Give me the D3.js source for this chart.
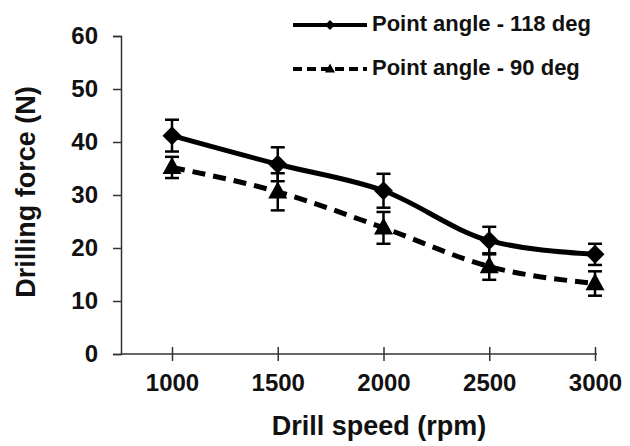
<!DOCTYPE html>
<html><head><meta charset="utf-8">
<script src="https://cdn.jsdelivr.net/npm/d3@7"></script>
<style>body{margin:0;background:#fff}svg{display:block}</style>
</head><body>
<svg id="c" width="630" height="446"></svg>
<script>
const speeds = [1000, 1500, 2000, 2500, 3000];
const force118 = [41.2, 35.8, 30.8, 21.4, 18.8];
const err118 = [3.0, 3.2, 3.2, 2.6, 2.0];
const force90 = [35.2, 30.6, 23.8, 16.5, 13.3];
const err90 = [2.0, 3.5, 3.0, 2.5, 2.3];
const yTicks = [0, 10, 20, 30, 40, 50, 60];
const seriesNames = ["Point angle - 118 deg", "Point angle - 90 deg"];

const svg = d3.select("#c");
const font = "'Liberation Sans', Arial, sans-serif";
const ink = "#111";
const x = d3.scaleLinear().domain([1000, 3000]).range([172, 595]);
const y = d3.scaleLinear().domain([0, 60]).range([354, 36]);
const axisLeft = 121, axisRight = 597;

// y axis
const ya = svg.append("g").attr("transform", `translate(${axisLeft},0)`)
  .call(d3.axisLeft(y).tickValues(yTicks).tickSize(8).tickPadding(15));
ya.select(".domain").attr("stroke", "#333").attr("stroke-width", 1.5);
ya.selectAll(".tick line").attr("stroke", "#333").attr("stroke-width", 1.5);
ya.selectAll("text").attr("font-family", font).attr("font-weight", "bold")
  .attr("font-size", 24).attr("fill", ink);

// x axis
const xa = svg.append("g").attr("transform", `translate(0,${y(0)})`)
  .call(d3.axisBottom(x).tickValues(speeds).tickFormat(d3.format("d")).tickSizeInner(7).tickSizeOuter(0).tickPadding(13));
xa.select(".domain").attr("d", `M${axisLeft},0H${axisRight}`).attr("stroke", "#333").attr("stroke-width", 1.5);
xa.selectAll(".tick line").attr("y1", -7).attr("y2", 7).attr("stroke", "#333").attr("stroke-width", 1.5);
xa.selectAll("text").attr("font-family", font).attr("font-weight", "bold")
  .attr("font-size", 24).attr("fill", ink);

// axis titles
svg.append("text").attr("x", 379).attr("y", 435).attr("text-anchor", "middle")
  .attr("font-family", font).attr("font-weight", "bold").attr("font-size", 27).attr("fill", ink)
  .text("Drill speed (rpm)");
svg.append("text").attr("transform", "translate(35,192) rotate(-90)").attr("text-anchor", "middle")
  .attr("font-family", font).attr("font-weight", "bold").attr("font-size", 27).attr("fill", ink)
  .text("Drilling force (N)");

const diamond = r => `M0,${-r}L${r},0L0,${r}L${-r},0Z`;
const triangle = r => `M0,${-r * 1.1}L${r},${r * 0.7}L${-r},${r * 0.7}Z`;

const series = [
  {vals: force118, errs: err118, dash: null, sym: diamond},
  {vals: force90, errs: err90, dash: "13,8", sym: triangle}
];
const line = d3.line().x((d, i) => x(speeds[i])).y(d => y(d)).curve(d3.curveMonotoneX);

series.forEach(s => {
  const g = svg.append("g");
  // error bars
  s.vals.forEach((v, i) => {
    const cx = x(speeds[i]);
    const t = y(v + s.errs[i]), b = y(v - s.errs[i]);
    g.append("line").attr("x1", cx).attr("x2", cx).attr("y1", t).attr("y2", b).attr("stroke", "#000").attr("stroke-width", 2.5);
    [t, b].forEach(yy => g.append("line").attr("x1", cx - 7).attr("x2", cx + 7).attr("y1", yy).attr("y2", yy)
      .attr("stroke", "#000").attr("stroke-width", 2.5));
  });
  g.append("path").datum(s.vals).attr("d", line).attr("fill", "none").attr("stroke", "#000")
    .attr("stroke-width", 5).attr("stroke-dasharray", s.dash);
  s.vals.forEach((v, i) => {
    g.append("path").attr("d", s.sym(9.5))
      .attr("transform", `translate(${x(speeds[i])},${y(v)})`).attr("fill", "#000");
  });
});

// legend
const legY = [25, 69];
series.forEach((s, k) => {
  const g = svg.append("g");
  g.append("line").attr("x1", 293).attr("x2", 367).attr("y1", legY[k]).attr("y2", legY[k])
    .attr("stroke", "#000").attr("stroke-width", 4).attr("stroke-dasharray", s.dash ? "9,5" : null);
  g.append("path").attr("d", s.sym(5))
    .attr("transform", `translate(330,${legY[k]})`).attr("fill", "#000");
  g.append("text").attr("x", 372).attr("y", legY[k] + 6).attr("font-family", font).attr("font-weight", "bold")
    .attr("font-size", 22).attr("fill", ink).text(seriesNames[k]);
});
</script>
</body></html>
